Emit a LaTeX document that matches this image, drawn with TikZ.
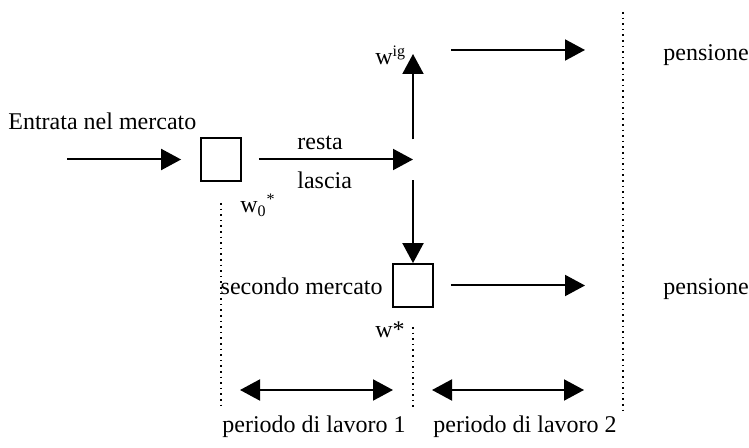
\documentclass[tikz,border=0pt]{standalone}
\usepackage{fontspec}
\setmainfont{Liberation Serif}
\usetikzlibrary{arrows.meta}

\tikzset{
  txt/.style={inner sep=0pt, font=\fontsize{12}{14}\selectfont},
  box/.style={draw, line width=0.9pt, minimum width=20pt, minimum height=21.5pt, inner sep=0pt},
  flow/.style={-{Triangle[width=10.5pt,length=10pt]}, line width=1pt},
  period/.style={{Triangle[width=10.5pt,length=10pt]}-{Triangle[width=10.5pt,length=10pt]}, line width=1pt},
  guide/.style={dotted, line width=0.8pt}
}

\begin{document}
\begin{tikzpicture}[x=0.5pt, y=-0.5pt]
  \useasboundingbox (0,0) rectangle (749,448);
  % markets and branching point
  \node[box] (mkt1) at (221,159.5) {};
  \node[box] (mkt2) at (413,285.5) {};
  \coordinate (start) at (67,159.5);
  \coordinate (split) at (413,159.5);
  \coordinate (top) at (413,54);
  \coordinate (ret1a) at (451,50);
  \coordinate (ret1b) at (585,50);
  \coordinate (ret2) at (585,285.5);
  % flows
  \draw[flow, shorten >=9.5pt] (start) -- (mkt1.west);
  \draw[flow, shorten <=8.5pt] (mkt1.east) -- (split);
  \draw[flow, shorten <=10pt] (split) -- (top);
  \draw[flow, shorten <=10.5pt] (split) -- (mkt2.north);
  \draw[flow] (ret1a) -- (ret1b);
  \draw[flow, shorten <=8.5pt] (mkt2.east) -- (ret2);
  % period boundaries
  \coordinate (g1a) at (221,203); \coordinate (g1b) at (221,408);
  \coordinate (g2a) at (413,327); \coordinate (g2b) at (413,408);
  \coordinate (g3a) at (623,12);  \coordinate (g3b) at (623,410);
  \draw[guide] (g1a) -- (g1b);
  \draw[guide] (g2a) -- (g2b);
  \draw[guide] (g3a) -- (g3b);
  \coordinate (p1a) at (240,390); \coordinate (p1b) at (393,390);
  \coordinate (p2a) at (432,390); \coordinate (p2b) at (584,390);
  \draw[period] (p1a) -- (p1b);
  \draw[period] (p2a) -- (p2b);
  % labels
  \node[txt, anchor=base west] (entry) at (8,130) {Entrata nel mercato};
  \node[txt, anchor=base west] (stay) at (297,150) {resta};
  \node[txt, anchor=base west] (leave) at (297,189) {lascia};
  \node[txt, anchor=base west] (w0) at (240,213) {w\textsubscript{0}\textsuperscript{*}};
  \node[txt, anchor=base west] (wig) at (375,65) {w\textsuperscript{ig}};
  \node[txt, anchor=base east] (second) at (383,295) {secondo mercato};
  \node[txt, anchor=base west] (wstar) at (375,338) {w*};
  \node[txt, anchor=base west] (pens1) at (663,61) {pensione};
  \node[txt, anchor=base west] (pens2) at (663,295) {pensione};
  \node[txt, anchor=base west] (per1) at (222,432) {periodo di lavoro 1};
  \node[txt, anchor=base west] (per2) at (433,432) {periodo di lavoro 2};
\end{tikzpicture}
\end{document}
